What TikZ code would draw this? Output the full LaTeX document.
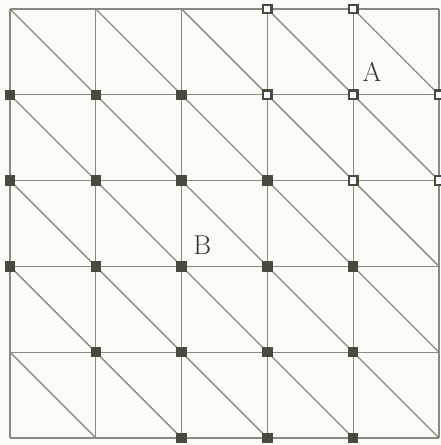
\documentclass[tikz,border=0pt]{standalone}
\usepackage{tikz}
\usetikzlibrary{positioning}
\definecolor{paper}{HTML}{FBFCF5}
\definecolor{gridline}{HTML}{8A8A82}
\definecolor{dot}{HTML}{4A493F}
\tikzset{
  meshline/.style={gridline,line width=0.75pt},
  fullsq/.style={rectangle,draw=dot,fill=dot,line width=0.5pt,minimum size=0.19cm,inner sep=0pt},
  opensq/.style={rectangle,draw=dot,fill=white,line width=1.3pt,minimum size=0.17cm,inner sep=0pt},
  lbl/.style={font=\fontsize{15.5}{18}\selectfont,text=black!80}
}
\begin{document}
\begin{tikzpicture}[x=1.716cm,y=-1.716cm]
        \fill[paper] (-0.1166,-0.1049) rectangle (5.023,5.082);
        \useasboundingbox (-0.1166,-0.1049) rectangle (5.023,5.082);
        \clip (-0.1166,-0.1049) rectangle (5.023,5.082);
        % grid and diagonals
        \foreach \k in {0,...,5} {
          \draw[meshline] (\k,0) -- (\k,5);
          \draw[meshline] (0,\k) -- (5,\k);
        }
        \foreach \i in {0,...,4}
          \foreach \j in {0,...,4}
            \draw[meshline] (\i,\j) -- (\i+1,\j+1);
        % markers
        \foreach \i/\j in {3/0,4/0,3/1,4/1,5/1,4/2,5/2}
          \node[opensq] (open-\i-\j) at (\i,\j) {};
        \foreach \i/\j in {0/1,1/1,2/1,0/2,1/2,2/2,3/2,0/3,1/3,2/3,3/3,4/3,1/4,2/4,3/4,4/4,2/5,3/5,4/5}
          \node[fullsq] (full-\i-\j) at (\i,\j) {};
        \node[lbl] (labelA) at (4.22,0.73) {A};
        \node[lbl] (labelB) at (2.24,2.75) {B};
      \end{tikzpicture}
\end{document}
